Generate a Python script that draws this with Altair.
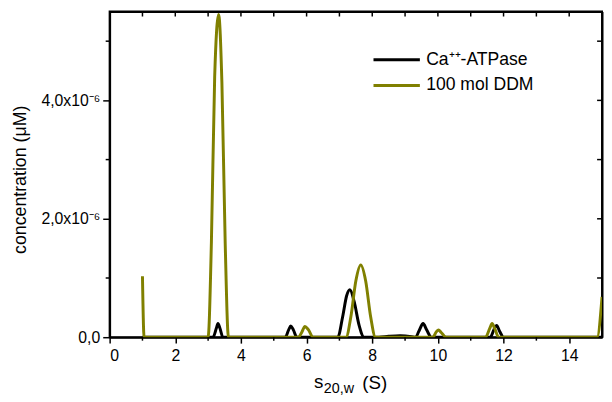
import altair as alt
import pandas as pd

UNIT = 1e-6  # concentrations below are read in units of 1e-6 µM

series_names = ["Ca⁺⁺-ATPase", "100 mol DDM"]
series_colors = ["#000000", "#808000"]

ca_x = [1.0, 3.15, 3.25, 3.3, 3.36, 3.45, 5.35, 5.45, 5.52, 5.6, 5.7,
        6.95, 7.1, 7.22, 7.32, 7.45, 7.6, 7.75, 8.2, 8.5, 8.85, 9.2, 9.32,
        9.42, 9.55, 9.66, 9.8, 11.6, 11.7, 11.79, 11.88, 12.0, 15.0]
ca_y = [0.0, 0.0, 0.15, 0.23, 0.15, 0.0, 0.0, 0.12, 0.19, 0.12, 0.0,
        0.0, 0.35, 0.7, 0.8, 0.6, 0.2, 0.0, 0.0, 0.015, 0.025, 0.01, 0.0,
        0.1, 0.23, 0.12, 0.0, 0.0, 0.12, 0.2, 0.1, 0.0, 0.0]

ddm_x = [1.0, 1.05, 3.0, 3.1, 3.2, 3.32, 3.42, 3.52, 3.62, 5.75, 5.85,
         5.95, 6.05, 6.2, 7.2, 7.35, 7.5, 7.65, 7.8, 7.95, 8.1, 9.85, 9.95,
         10.02, 10.1, 10.25, 11.45, 11.58, 11.65, 11.73, 11.85, 14.85, 15.0]
ddm_y = [1.03, 0.0, 0.0, 1.6, 4.4, 5.45, 4.3, 1.6, 0.0, 0.0, 0.08,
         0.18, 0.13, 0.0, 0.0, 0.35, 0.95, 1.22, 0.95, 0.35, 0.0, 0.0, 0.09,
         0.12, 0.08, 0.0, 0.0, 0.15, 0.23, 0.15, 0.0, 0.0, 0.68]

x_major = [0, 2, 4, 6, 8, 10, 12, 14]
x_minor = [1, 3, 5, 7, 9, 11, 13]
x_top = list(range(1, 15))
y_major = [0.0, 2.0, 4.0]
y_minor = [1.0, 3.0, 5.0]
y_right = [1.0, 2.0, 3.0, 4.0, 5.0]
y_labels = ["0,0", "2,0x10⁻⁶", "4,0x10⁻⁶"]

X_DOMAIN = [0, 15]
Y_DOMAIN = [0, 5.5 * UNIT]
W, H = 499, 330
FONT = "Liberation Sans"

rows = []
for x, y in zip(ca_x, ca_y):
    rows.append({"s": x, "c": y * UNIT, "series": series_names[0], "k": 0})
for x, y in zip(ddm_x, ddm_y):
    rows.append({"s": x, "c": y * UNIT, "series": series_names[1], "k": 1})
df = pd.DataFrame(rows)

xs = alt.Scale(domain=X_DOMAIN, nice=False, zero=False)
ys = alt.Scale(domain=Y_DOMAIN, nice=False)

# label expression built from the tick lists
label_expr = "''"
for v, l in reversed(list(zip(y_major, y_labels))):
    label_expr = f"(abs(datum.value*1e6 - {v}) < 0.01 ? '{l}' : {label_expr})"

lines = alt.Chart(df).mark_line(strokeWidth=3, interpolate="monotone", clip=True).encode(
    x=alt.X("s:Q", scale=xs, axis=alt.Axis(
        orient="bottom", values=x_major, title=None, tickSize=6, tickWidth=1.5,
        tickColor="black", labelFont=FONT, labelFontSize=16, labelColor="black",
        labelPadding=5, domain=True, domainColor="black", domainWidth=2, grid=False)),
    y=alt.Y("c:Q", scale=ys, axis=alt.Axis(
        orient="left", values=[v * UNIT for v in y_major],
        labelExpr=label_expr,
        title="concentration (μM)", titleFont=FONT, titleFontSize=18,
        titleFontWeight="normal", titleColor="black",
        titleAngle=270, titleAlign="center", titleBaseline="middle",
        titleX=-90, titleY=170,
        tickSize=7, tickWidth=1.5, tickColor="black",
        labelFont=FONT, labelFontSize=16, labelColor="black", labelPadding=3,
        domain=True, domainColor="black", domainWidth=2, grid=False)),
    color=alt.Color("series:N", scale=alt.Scale(domain=series_names, range=series_colors),
                    legend=alt.Legend(
                        title=None, orient="none", legendX=282, legendY=40,
                        symbolType="M-4.7,0H4.7", symbolSize=100, symbolStrokeWidth=3,
                        labelFont=FONT, labelFontSize=17.8, labelColor="black",
                        labelOffset=21, rowPadding=7, padding=0)),
    detail="k:N",
)

frame_axis = dict(labels=False, ticks=False, domain=True, domainColor="black",
                  domainWidth=2, grid=False, title=None)

# minor / mirrored ticks drawn as short rules at data positions
def vrule(vals, y0, y1, axis):
    return alt.Chart(pd.DataFrame({"s": vals})).mark_rule(color="black", strokeWidth=1.5).encode(
        x=alt.X("s:Q", scale=xs, axis=axis), y=alt.value(y0), y2=alt.value(y1))

def hrule(vals, x0, x1, axis):
    return alt.Chart(pd.DataFrame({"c": [v * UNIT for v in vals]})).mark_rule(
        color="black", strokeWidth=1.5).encode(
        y=alt.Y("c:Q", scale=ys, axis=axis), x=alt.value(x0), x2=alt.value(x1))

bottom_minor = vrule(x_minor, H, H + 3.5, None)
top_ticks = vrule(x_top, 0, 5, alt.Axis(orient="top", **frame_axis))
left_minor = hrule(y_minor, 0, -4, None)
right_ticks = hrule(y_right, W, W - 5, alt.Axis(orient="right", **frame_axis))

# x-axis title with subscript
one = pd.DataFrame({"d": [0]})
t_s = alt.Chart(one).mark_text(text="s", font=FONT, fontSize=19, align="left",
                               baseline="alphabetic", color="black").encode(
    x=alt.value(207), y=alt.value(381))
t_sub = alt.Chart(one).mark_text(text="20,w", font=FONT, fontSize=14.5, align="left",
                                 baseline="alphabetic", color="black").encode(
    x=alt.value(217), y=alt.value(387))
t_unit = alt.Chart(one).mark_text(text="(S)", font=FONT, fontSize=19, align="left",
                                  baseline="alphabetic", color="black").encode(
    x=alt.value(256), y=alt.value(382))

chart = alt.layer(
    lines, bottom_minor, top_ticks, left_minor, right_ticks,
    t_s, t_sub, t_unit
).resolve_axis(
    x="independent", y="independent"
).properties(
    width=W, height=H,
    background="white",
    autosize=alt.AutoSizeParams(type="none"),
    padding={"left": 103, "top": 1, "right": 2, "bottom": 60},
).configure_view(
    stroke="black", strokeWidth=2
)

chart.save("out.html", embed_options={"renderer": "svg", "actions": False})
